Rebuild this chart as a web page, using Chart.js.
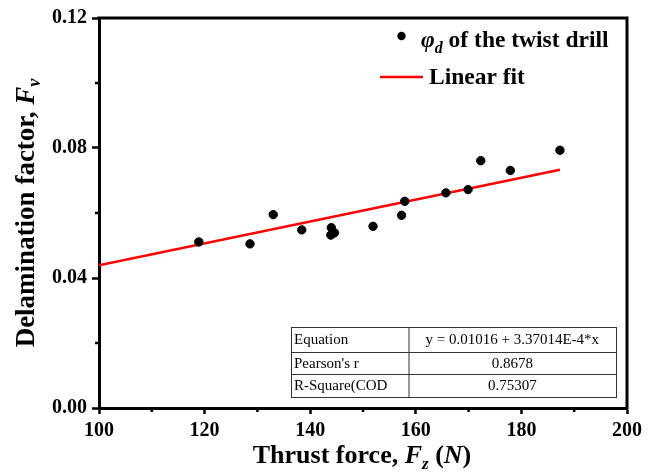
<!DOCTYPE html>
<html>
<head>
<meta charset="utf-8">
<title>Delamination factor vs thrust force</title>
<script src="https://cdn.jsdelivr.net/npm/chart.js@4"></script>
<style>
  html, body { margin: 0; padding: 0; background: #fff; }
  #wrap { width: 657px; height: 474px; }
</style>
</head>
<body>
<div id="wrap"><canvas id="delamChart" width="657" height="474"></canvas></div>
<script>
// Data
const thrustForce = [118.9, 128.6, 133.0, 138.4, 144.0, 143.9, 144.6, 151.9, 157.3, 157.9, 165.7, 169.9, 172.3, 177.9, 187.3];
const delamFactor = [0.0511, 0.0505, 0.0595, 0.0548, 0.0555, 0.0532, 0.0539, 0.0559, 0.0593, 0.0636, 0.0662, 0.0672, 0.0761, 0.0731, 0.0793];

// Linear fit line end points
const fitX = [100, 187.3];
const fitY = [0.0439, 0.0733];

// Axis ticks
const xMajorTicks = [100, 120, 140, 160, 180, 200];
const xMinorTicks = [110, 130, 150, 170, 190];
const yMajorTicks = [0.00, 0.04, 0.08, 0.12];
const yMinorTicks = [0.02, 0.06, 0.10];

// Fit statistics table
const tableLabels = ['Equation', "Pearson's r", 'R-Square(COD'];
const tableValues = ['y = 0.01016 + 3.37014E-4*x', '0.8678', '0.75307'];

const SERIF = "'Liberation Serif', 'Times New Roman', serif";

document.addEventListener('DOMContentLoaded', function() {
  const ctx = document.getElementById('delamChart').getContext('2d');
  new Chart(ctx, {
    type: 'scatter',
    data: {
      datasets: [{
        label: 'phi_d of the twist drill',
        data: thrustForce.map((x, i) => ({ x: x, y: delamFactor[i] })),
        backgroundColor: '#000',
        borderColor: '#000',
        pointRadius: 4.2,
        pointHoverRadius: 4.2
      }, {
        label: 'Linear fit',
        data: fitX.map((x, i) => ({ x: x, y: fitY[i] })),
        showLine: true,
        borderColor: '#ff0000',
        borderWidth: 2.5,
        pointRadius: 0
      }]
    },
    options: {
      responsive: false,
      animation: false,
      layout: { padding: { top: 18, right: 30, left: 0, bottom: 0 } },
      scales: {
        x: {
          type: 'linear',
          min: 100,
          max: 200,
          afterFit: function(scale) { scale.height = 66; },
          afterBuildTicks: function(scale) { scale.ticks = xMajorTicks.map(v => ({ value: v })); },
          ticks: {
            color: '#000',
            padding: 5,
            font: { family: SERIF, weight: 'bold', size: 20 },
            callback: v => String(v)
          },
          grid: { drawOnChartArea: false, drawTicks: true, tickLength: 6, tickWidth: 2.5, tickColor: '#000' },
          border: { display: true, color: '#000', width: 3 }
        },
        y: {
          type: 'linear',
          min: 0,
          max: 0.12,
          afterFit: function(scale) { scale.width = 99; },
          afterBuildTicks: function(scale) { scale.ticks = yMajorTicks.map(v => ({ value: v })); },
          ticks: {
            color: '#000',
            padding: 5,
            font: { family: SERIF, weight: 'bold', size: 20 },
            callback: v => Number(v).toFixed(2)
          },
          grid: { drawOnChartArea: false, drawTicks: true, tickLength: 7, tickWidth: 2.5, tickColor: '#000' },
          border: { display: true, color: '#000', width: 3 }
        }
      },
      plugins: {
        legend: { display: false },
        tooltip: { enabled: false }
      }
    },
    plugins: [framePlugin]
  });
});

/**
 * Draw a run of text pieces with different fonts / baselines
 */
function drawRich(ctx, parts, x, y, align) {
  let total = 0;
  parts.forEach(p => { ctx.font = p.font; total += ctx.measureText(p.text).width; });
  let cx = align === 'center' ? x - total / 2 : x;
  parts.forEach(p => {
    ctx.font = p.font;
    ctx.fillText(p.text, cx, y + (p.dy || 0));
    cx += ctx.measureText(p.text).width;
  });
}

// Frame, minor ticks, axis titles, legend and the stats table
const framePlugin = {
  id: 'framePlugin',
  afterDraw: function(chart) {
    const ctx = chart.ctx;
    const area = chart.chartArea;
    const xs = chart.scales.x;
    const ys = chart.scales.y;
    ctx.save();
    ctx.fillStyle = '#000';
    ctx.strokeStyle = '#000';

    // top and right frame
    ctx.lineWidth = 3;
    ctx.beginPath();
    ctx.moveTo(area.left - 1.5, area.top);
    ctx.lineTo(area.right, area.top);
    ctx.lineTo(area.right, area.bottom + 1.5);
    ctx.stroke();

    // minor ticks
    ctx.lineWidth = 2.5;
    xMinorTicks.forEach(v => {
      const px = xs.getPixelForValue(v);
      ctx.beginPath();
      ctx.moveTo(px, area.bottom);
      ctx.lineTo(px, area.bottom + 4);
      ctx.stroke();
    });
    yMinorTicks.forEach(v => {
      const py = ys.getPixelForValue(v);
      ctx.beginPath();
      ctx.moveTo(area.left, py);
      ctx.lineTo(area.left - 4, py);
      ctx.stroke();
    });

    // axis titles
    ctx.textBaseline = 'alphabetic';
    const b26 = 'bold 26px ' + SERIF;
    const bi26 = 'italic bold 26px ' + SERIF;
    const bi17 = 'italic bold 17px ' + SERIF;
    drawRich(ctx, [
      { text: 'Thrust force, ', font: b26 },
      { text: 'F', font: bi26 },
      { text: 'z', font: bi17, dy: 6 },
      { text: ' (', font: b26 },
      { text: 'N', font: bi26 },
      { text: ')', font: b26 }
    ], 362, 463, 'center');

    ctx.save();
    ctx.translate(34, 213);
    ctx.rotate(-Math.PI / 2);
    drawRich(ctx, [
      { text: 'Delamination factor, ', font: 'bold 27px ' + SERIF },
      { text: 'F', font: 'italic bold 27px ' + SERIF },
      { text: 'v', font: 'italic bold 18px ' + SERIF, dy: 6 }
    ], 0, 0, 'center');
    ctx.restore();

    // legend
    const b23 = 'bold 23.5px ' + SERIF;
    ctx.beginPath();
    ctx.arc(401.5, 36, 4.2, 0, Math.PI * 2);
    ctx.fill();
    drawRich(ctx, [
      { text: '\u03C6', font: 'italic bold 23.5px ' + SERIF },
      { text: 'd', font: 'italic bold 16px ' + SERIF, dy: 6 },
      { text: ' of the twist drill', font: b23 }
    ], 421, 47, 'left');
    ctx.strokeStyle = '#ff0000';
    ctx.lineWidth = 2.5;
    ctx.beginPath();
    ctx.moveTo(380, 77);
    ctx.lineTo(423, 77);
    ctx.stroke();
    ctx.font = b23;
    ctx.fillText('Linear fit', 429, 84);

    // stats table
    const tLeft = 291, tRight = 616, tSplit = 408.5;
    const rows = [327, 352, 374, 397];
    ctx.strokeStyle = '#333';
    ctx.lineWidth = 1;
    ctx.strokeRect(tLeft + 0.5, rows[0] + 0.5, tRight - tLeft, rows[3] - rows[0]);
    ctx.beginPath();
    ctx.moveTo(tSplit + 0.5, rows[0]);
    ctx.lineTo(tSplit + 0.5, rows[3]);
    ctx.moveTo(tLeft, rows[1] + 0.5);
    ctx.lineTo(tRight, rows[1] + 0.5);
    ctx.moveTo(tLeft, rows[2] + 0.5);
    ctx.lineTo(tRight, rows[2] + 0.5);
    ctx.stroke();
    ctx.font = '15px ' + SERIF;
    ctx.textBaseline = 'middle';
    tableLabels.forEach((lab, i) => {
      const cy = (rows[i] + rows[i + 1]) / 2 + 1;
      ctx.textAlign = 'left';
      ctx.fillText(lab, tLeft + 3, cy);
      ctx.textAlign = 'center';
      ctx.fillText(tableValues[i], (tSplit + tRight) / 2, cy);
    });

    ctx.restore();
  }
};
</script>
</body>
</html>
